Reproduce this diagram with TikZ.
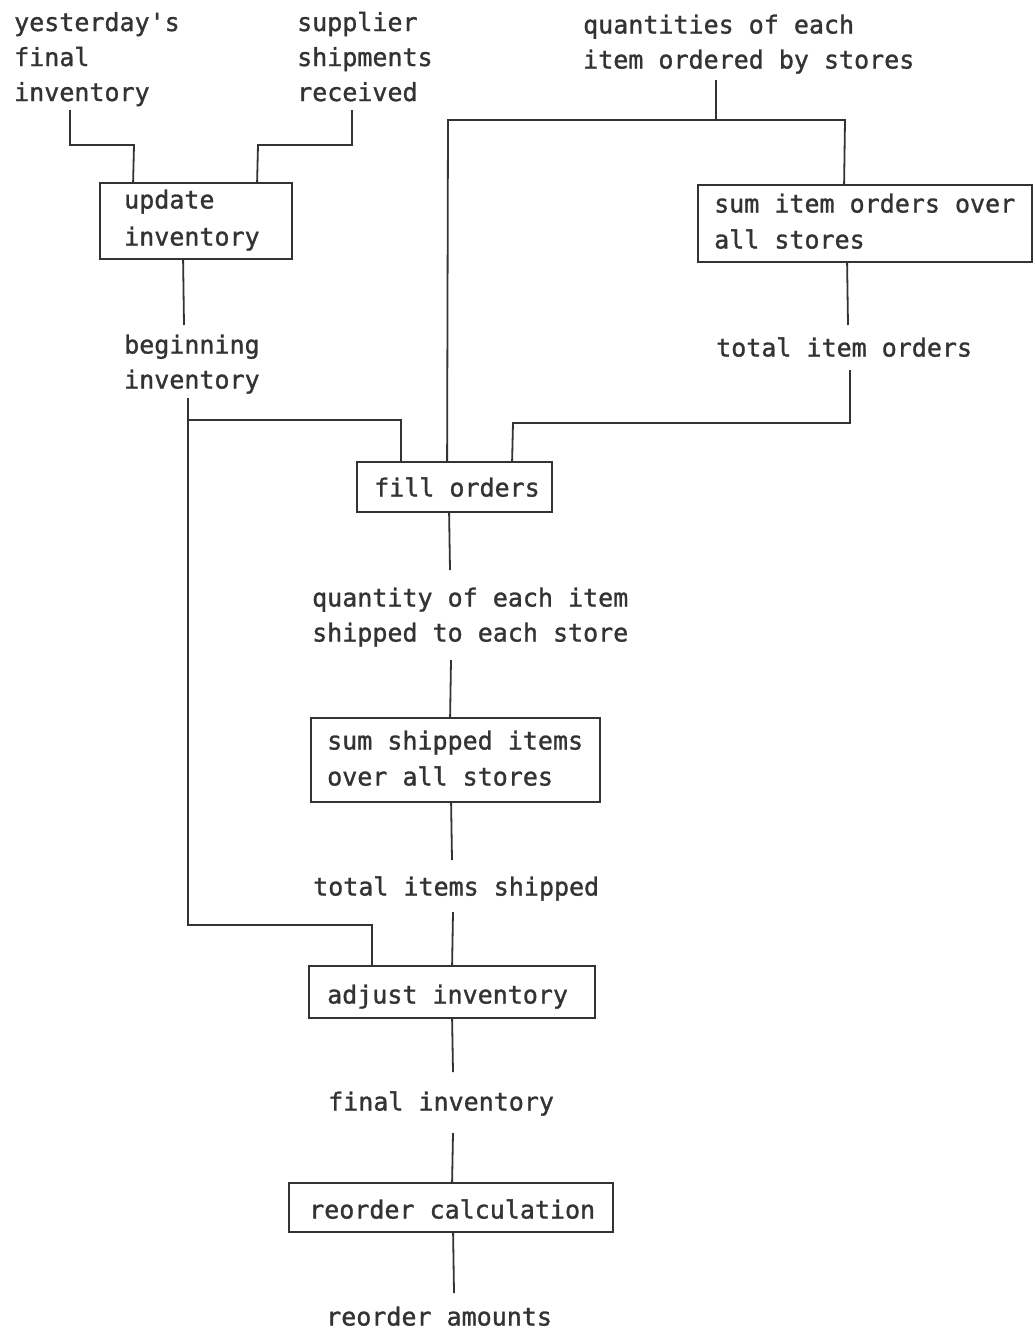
\documentclass[tikz,border=0pt]{standalone}
\usepackage{fontspec}
\newfontfamily\monof[FakeBold=1.2]{DejaVu Sans Mono}
\usetikzlibrary{calc}
\definecolor{ink}{HTML}{333333}
\tikzset{
  lbl/.style={anchor=base west, inner sep=0pt, text=ink, font=\monof\fontsize{25}{35}\selectfont},
  procbox/.style={draw=ink, line width=1.8pt, inner sep=0pt},
  conn/.style={draw=ink, line width=1.8pt}
}
\begin{document}
\begin{tikzpicture}[x=1pt,y=-1pt]
\useasboundingbox[fill=white] (0,0) rectangle (1034,1331);

% process boxes
\node[procbox, minimum width=192pt, minimum height=76pt] (upd) at (196,221) {};
\node[procbox, minimum width=334pt, minimum height=77pt] (sio) at (865,223.5) {};
\node[procbox, minimum width=195pt, minimum height=50pt] (fill) at (454.5,487) {};
\node[procbox, minimum width=289pt, minimum height=84pt] (ssi) at (455.5,760) {};
\node[procbox, minimum width=286pt, minimum height=52pt] (adj) at (452,992) {};
\node[procbox, minimum width=324pt, minimum height=49pt] (reo) at (451,1207.5) {};

% box texts
\node[lbl] (updt1) at (124,208.5) {update};
\node[lbl] (updt2) at (124,245.5) {inventory};
\node[lbl] (siot1) at (714,212.5) {sum item orders over};
\node[lbl] (siot2) at (714,248.5) {all stores};
\node[lbl] (fillt) at (374,496.5) {fill orders};
\node[lbl] (ssit1) at (327,749.5) {sum shipped items};
\node[lbl] (ssit2) at (327,785.5) {over all stores};
\node[lbl] (adjt) at (327,1003.5) {adjust inventory};
\node[lbl] (reot) at (309,1218.5) {reorder calculation};

% text labels
\node[lbl] (yf1) at (14,31) {yesterday's};
\node[lbl] (yf2) at (14,66) {final};
\node[lbl] (yf3) at (14,101) {inventory};
\node[lbl] (ss1) at (297,31) {supplier};
\node[lbl] (ss2) at (297,66) {shipments};
\node[lbl] (ss3) at (297,101) {received};
\node[lbl] (qo1) at (583,33.5) {quantities of each};
\node[lbl] (qo2) at (583,68.5) {item ordered by stores};
\node[lbl] (bi1) at (124,353.5) {beginning};
\node[lbl] (bi2) at (124,388.5) {inventory};
\node[lbl] (tio) at (716,356.5) {total item orders};
\node[lbl] (qs1) at (312,606.5) {quantity of each item};
\node[lbl] (qs2) at (312,641.5) {shipped to each store};
\node[lbl] (tis) at (313,895.5) {total items shipped};
\node[lbl] (fin) at (328,1110.5) {final inventory};
\node[lbl] (ram) at (326,1325.5) {reorder amounts};

% free ends
\coordinate (yfe) at (70,110);
\coordinate (sse) at (352,110);
\coordinate (qoe) at (716,80);
\coordinate (qoj) at (716,120);
\coordinate (bie) at (184,325);
\coordinate (bis) at (188,398);
\coordinate (sioe) at (848,325);
\coordinate (tioe) at (850,370);
\coordinate (fille) at (450,570);
\coordinate (qse) at (451,660);
\coordinate (ssie) at (452,860);
\coordinate (tise) at (453,912);
\coordinate (adje) at (453,1072);
\coordinate (fine) at (453,1133);
\coordinate (reoe) at (454,1293);

% connectors
\draw[conn] (yfe) |- (134,145) -- ($(upd.north west)+(34,0)$);
\draw[conn] (sse) |- (258,145) -- ($(upd.north west)+(158,0)$);
\draw[conn] (qoe) -- (qoj);
\draw[conn] ($(fill.north west)+(91,0)$) -- (448,120) -- (845,120) -- ($(sio.north west)+(147,0)$);
\draw[conn] ($(upd.south west)+(84,0)$) -- (bie);
\draw[conn] ($(sio.south west)+(150,0)$) -- (sioe);
\draw[conn] (tioe) |- (513,423) -- ($(fill.north west)+(156,0)$);
\draw[conn] (bis) -- (188,925) -| ($(adj.north west)+(64,0)$);
\draw[conn] (188,420) -| ($(fill.north west)+(45,0)$);
\draw[conn] ($(fill.south west)+(93,0)$) -- (fille);
\draw[conn] (qse) -- ($(ssi.north west)+(140,0)$);
\draw[conn] ($(ssi.south west)+(141,0)$) -- (ssie);
\draw[conn] (tise) -- ($(adj.north west)+(144,0)$);
\draw[conn] ($(adj.south west)+(144,0)$) -- (adje);
\draw[conn] (fine) -- ($(reo.north west)+(164,0)$);
\draw[conn] ($(reo.south west)+(165,0)$) -- (reoe);
\end{tikzpicture}
\end{document}
